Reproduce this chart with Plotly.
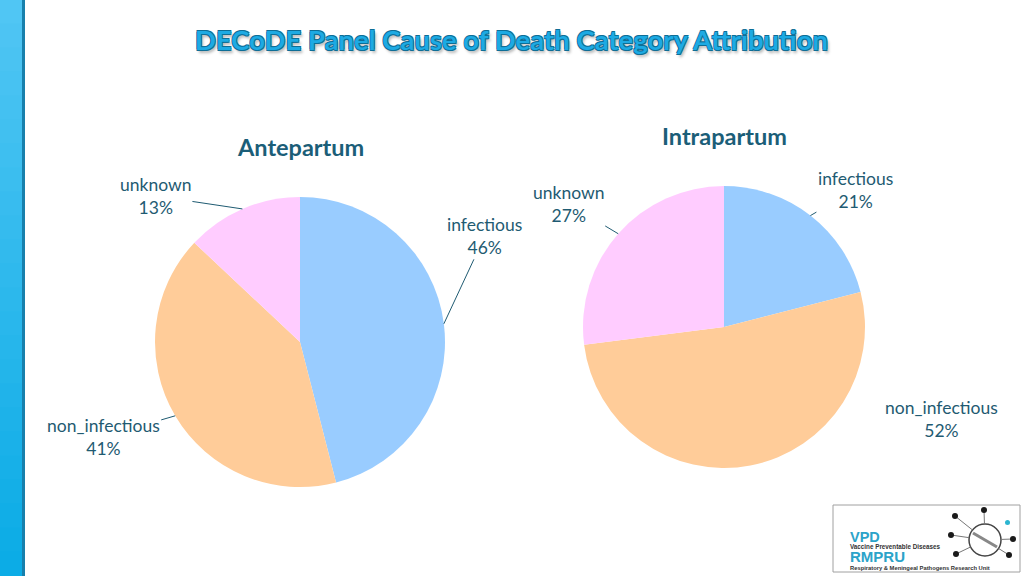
import plotly.graph_objects as go
import math

# ---- data ----
categories = ["infectious", "non_infectious", "unknown"]
antepartum_values = [46, 41, 13]
intrapartum_values = [21, 52, 27]
panel_titles = ["Antepartum", "Intrapartum"]
slice_colors = ["#99CCFF", "#FFCC99", "#FFCCFF"]

W, H = 1024, 576
label_color = "#1F5B72"

# pie placement (pixels): center x, center y, radius
pies = [
    dict(values=antepartum_values, cx=300, cy=342, r=145, title=panel_titles[0], ty=147,
         offsets=[(41, -88, True), (-72, 21, True), (-87, -13, True)]),
    dict(values=intrapartum_values, cx=724, cy=327, r=141, title=panel_titles[1], ty=136,
         offsets=[(45, -26, True), (191, -47, False), (-50, -30, True)]),
]


def px(x):
    return x / W


def py(y):
    return 1 - y / H


fig = go.Figure()
annotations = []
shapes = []

for p in pies:
    cx, cy, r = p["cx"], p["cy"], p["r"]
    fig.add_trace(go.Pie(
        labels=categories, values=p["values"], sort=False, direction="clockwise",
        rotation=0, marker=dict(colors=slice_colors, line=dict(width=0)),
        textinfo="none", hoverinfo="label+percent", showlegend=False,
        domain=dict(x=[px(cx - r), px(cx + r)], y=[py(cy + r), py(cy - r)]),
    ))
    total = sum(p["values"])
    cum = 0
    for cat, v, (ax, ay, line) in zip(categories, p["values"], p["offsets"]):
        mid = (cum + v / 2) / total * 2 * math.pi
        cum += v
        tx = cx + r * math.sin(mid)
        ty = cy - r * math.cos(mid)
        annotations.append(dict(
            x=px(tx), y=py(ty), xref="paper", yref="paper",
            text=f"{cat}<br>{round(v / total * 100)}%",
            showarrow=True, ax=ax, ay=ay, arrowhead=0, arrowwidth=1,
            arrowcolor="#1F5B72" if line else "rgba(0,0,0,0)", standoff=0,
            font=dict(family="Lato", size=17.5, color=label_color), align="center",
        ))
    annotations.append(dict(
        x=px(cx), y=py(p["ty"]), xref="paper", yref="paper", showarrow=False,
        xanchor="center", yanchor="middle",
        text=f"<b>{p['title']}</b>", font=dict(family="Lato", size=23.5, color="#1B5E78"),
    ))

# title
annotations.append(dict(
    x=px(511.5), y=py(40), xref="paper", yref="paper", showarrow=False,
    xanchor="center", yanchor="middle",
    text="<b>DECoDE Panel Cause of Death Category Attribution</b>",
    font=dict(family="Lato", size=27.5, color="#1DAAE3",
              shadow="0.7px 0.7px 0 #0E6E96, -0.7px -0.7px 0 #0E6E96, 0.7px -0.7px 0 #0E6E96, -0.7px 0.7px 0 #0E6E96, 2px 3px 3px rgba(0,0,0,0.3)"),
))

# left decorative bar (vertical gradient)
n = 24
c1, c2 = (80, 198, 244), (12, 172, 230)
for i in range(n):
    t = i / (n - 1)
    col = tuple(int(c1[k] + (c2[k] - c1[k]) * t) for k in range(3))
    shapes.append(dict(type="rect", xref="paper", yref="paper", x0=0, x1=px(22),
                       y0=1 - (i + 1) / n, y1=1 - i / n + 0.001,
                       fillcolor=f"rgb{col}", line=dict(width=0), layer="below"))
shapes.append(dict(type="rect", xref="paper", yref="paper", x0=px(22), x1=px(25), y0=0, y1=1,
                   fillcolor="#1880AC", line=dict(width=0), layer="below"))

# logo box
shapes.append(dict(type="rect", xref="paper", yref="paper", x0=px(833), x1=px(1020),
                   y0=py(572), y1=py(505), fillcolor="white", line=dict(color="#A0A0A0", width=1)))
# virus icon
icx, icy, ir = 985, 540, 16
shapes.append(dict(type="circle", xref="paper", yref="paper", x0=px(icx - ir), x1=px(icx + ir),
                   y0=py(icy + ir), y1=py(icy - ir), line=dict(color="#444", width=1.5), fillcolor="white"))
spoke_pts = [(984, 510), (955, 516), (951, 535), (956, 554), (1013, 539), (1009, 555)]
for (x1, y1) in spoke_pts:
    a = math.atan2(y1 - icy, x1 - icx)
    x0, y0 = icx + ir * math.cos(a), icy + ir * math.sin(a)
    shapes.append(dict(type="line", xref="paper", yref="paper", x0=px(x0), y0=py(y0), x1=px(x1), y1=py(y1),
                       line=dict(color="#777", width=1)))
    shapes.append(dict(type="circle", xref="paper", yref="paper", x0=px(x1 - 3), x1=px(x1 + 3),
                       y0=py(y1 + 3), y1=py(y1 - 3), fillcolor="#1a1a1a", line=dict(width=0)))
shapes.append(dict(type="circle", xref="paper", yref="paper", x0=px(1005), x1=px(1010),
                   y0=py(525), y1=py(520), fillcolor="#2BB5D0", line=dict(width=0)))
shapes.append(dict(type="line", xref="paper", yref="paper", x0=px(973), y0=py(533), x1=px(997), y1=py(547),
                   line=dict(color="#888", width=3)))

logo_texts = [
    ("<b>VPD</b>", 537, 14.5, "#2BA3C9"),
    ("<b>Vaccine Preventable Diseases</b>", 546.5, 6.3, "#333"),
    ("<b>RMPRU</b>", 556.5, 15, "#2BA3C9"),
    ("<b>Respiratory &amp; Meningeal Pathogens Research Unit</b>", 567.5, 5.8, "#333"),
]
for txt, yy, sz, col in logo_texts:
    annotations.append(dict(x=px(848), y=py(yy), xref="paper", yref="paper", xanchor="left",
                            yanchor="middle", showarrow=False, text=txt,
                            font=dict(family="Liberation Sans", size=sz, color=col)))

fig.update_layout(
    width=W, height=H, margin=dict(l=0, r=0, t=0, b=0),
    paper_bgcolor="white", plot_bgcolor="white",
    annotations=annotations, shapes=shapes,
)

fig.write_html("out.html", config={"displayModeBar": False},
               post_script="document.body.style.margin='0';")
